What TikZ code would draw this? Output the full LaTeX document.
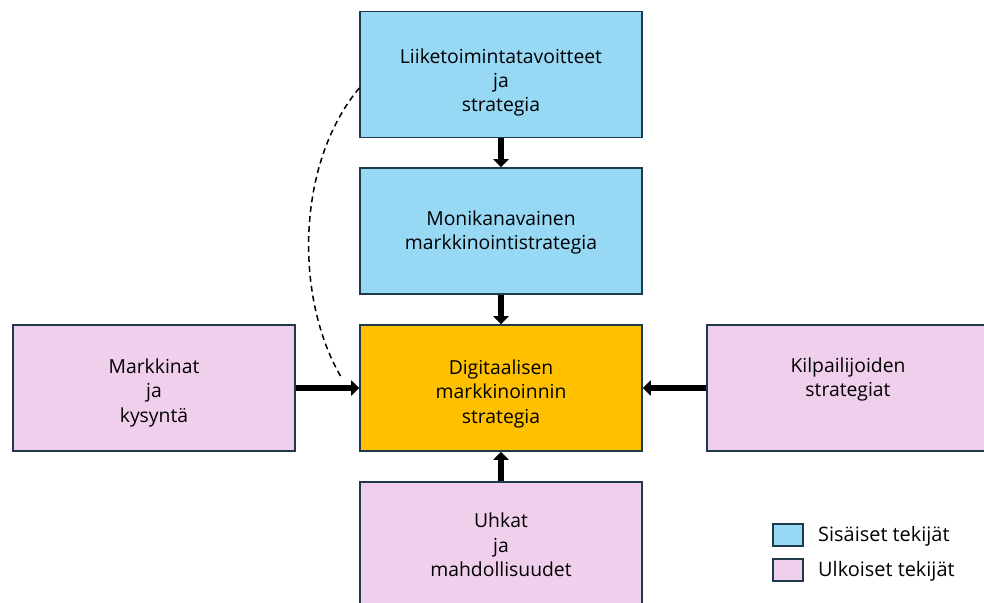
\documentclass[tikz,border=0pt]{standalone}
\usepackage{fontspec}
\setmainfont{Open Sans}
\usetikzlibrary{arrows.meta}

\definecolor{sisablue}{HTML}{97D9F5}
\definecolor{ulkopink}{HTML}{F0CFEC}
\definecolor{digiorange}{HTML}{FFC000}
\definecolor{boxline}{HTML}{1E3A4C}

% tuki, joka siirtaa tekstia alas laatikon sisalla
\newcommand{\tukialas}[1]{\rule{0pt}{#1}}

\tikzset{
  laatikko/.style={draw=boxline, line width=1.2pt, align=center,
    minimum width=8.46cm, minimum height=3.78cm, inner sep=0pt,
    font=\fontsize{16.5}{20.8}\selectfont},
  sisainen/.style={laatikko, fill=sisablue},
  ulkoinen/.style={laatikko, fill=ulkopink},
  keski/.style={laatikko, fill=digiorange},
  ylos/.style={execute at end node={\rule[-#1]{0pt}{0pt}}},
  nuoli/.style={line width=5pt, -{Triangle[length=7pt, width=13pt]}},
  katko/.style={line width=1.3pt, dash pattern=on 5pt off 3.5pt},
  selite/.style={draw=boxline, line width=1.5pt, minimum width=0.9cm,
    minimum height=0.66cm, inner sep=0pt},
  selitteksti/.style={anchor=west, inner sep=0pt,
    font=\fontsize{17}{20.8}\selectfont}
}

\begin{document}
\begin{tikzpicture}[x=0.03cm, y=-0.03cm]
  \useasboundingbox (0,0) rectangle (984,602);

  % Sisaiset tekijat
  \node[sisainen] (tavoitteet) at (501,74.5) {\tukialas{26pt}Liiketoimintatavoitteet\\ja\\strategia};
  \node[sisainen] (monikanava) at (501,231) {\tukialas{15.5pt}Monikanavainen\\markkinointistrategia};

  % Keskella oleva strategia
  \node[keski] (digi) at (501,388) {\tukialas{22.5pt}Digitaalisen\\markkinoinnin\\strategia};

  % Ulkoiset tekijat
  \node[ulkoinen] (markkinat) at (154,388) {\tukialas{21pt}Markkinat\\ja\\kysyntä};
  \node[ulkoinen, ylos=19pt] (kilpailijat) at (848,388) {Kilpailijoiden\\strategiat};
  \node[ulkoinen] (uhkat) at (501,545) {Uhkat\\ja\\mahdollisuudet};

  % Nuolet kohti keskustaa
  \draw[nuoli] (tavoitteet) -- (monikanava);
  \draw[nuoli] (monikanava) -- (digi);
  \draw[nuoli] (markkinat) -- (digi);
  \draw[nuoli] (kilpailijat) -- (digi);
  \draw[nuoli] (uhkat) -- (digi);

  % Katkoviiva tavoitteista
  \coordinate (katkopaa) at ([xshift=-15pt, yshift=8.5pt]digi.west);
  \draw[katko] ([yshift=-11.5pt]tavoitteet.west)
    .. controls (295,165) and (295,300) .. (katkopaa);

  % Selite
  \node[selite, fill=sisablue] (sisaruutu) at (788,535) {};
  \node[selitteksti] (sisateksti) at (818,536) {Sisäiset tekijät};
  \node[selite, fill=ulkopink] (ulkoruutu) at (788,570) {};
  \node[selitteksti] (ulkoteksti) at (818,571) {Ulkoiset tekijät};
\end{tikzpicture}
\end{document}
